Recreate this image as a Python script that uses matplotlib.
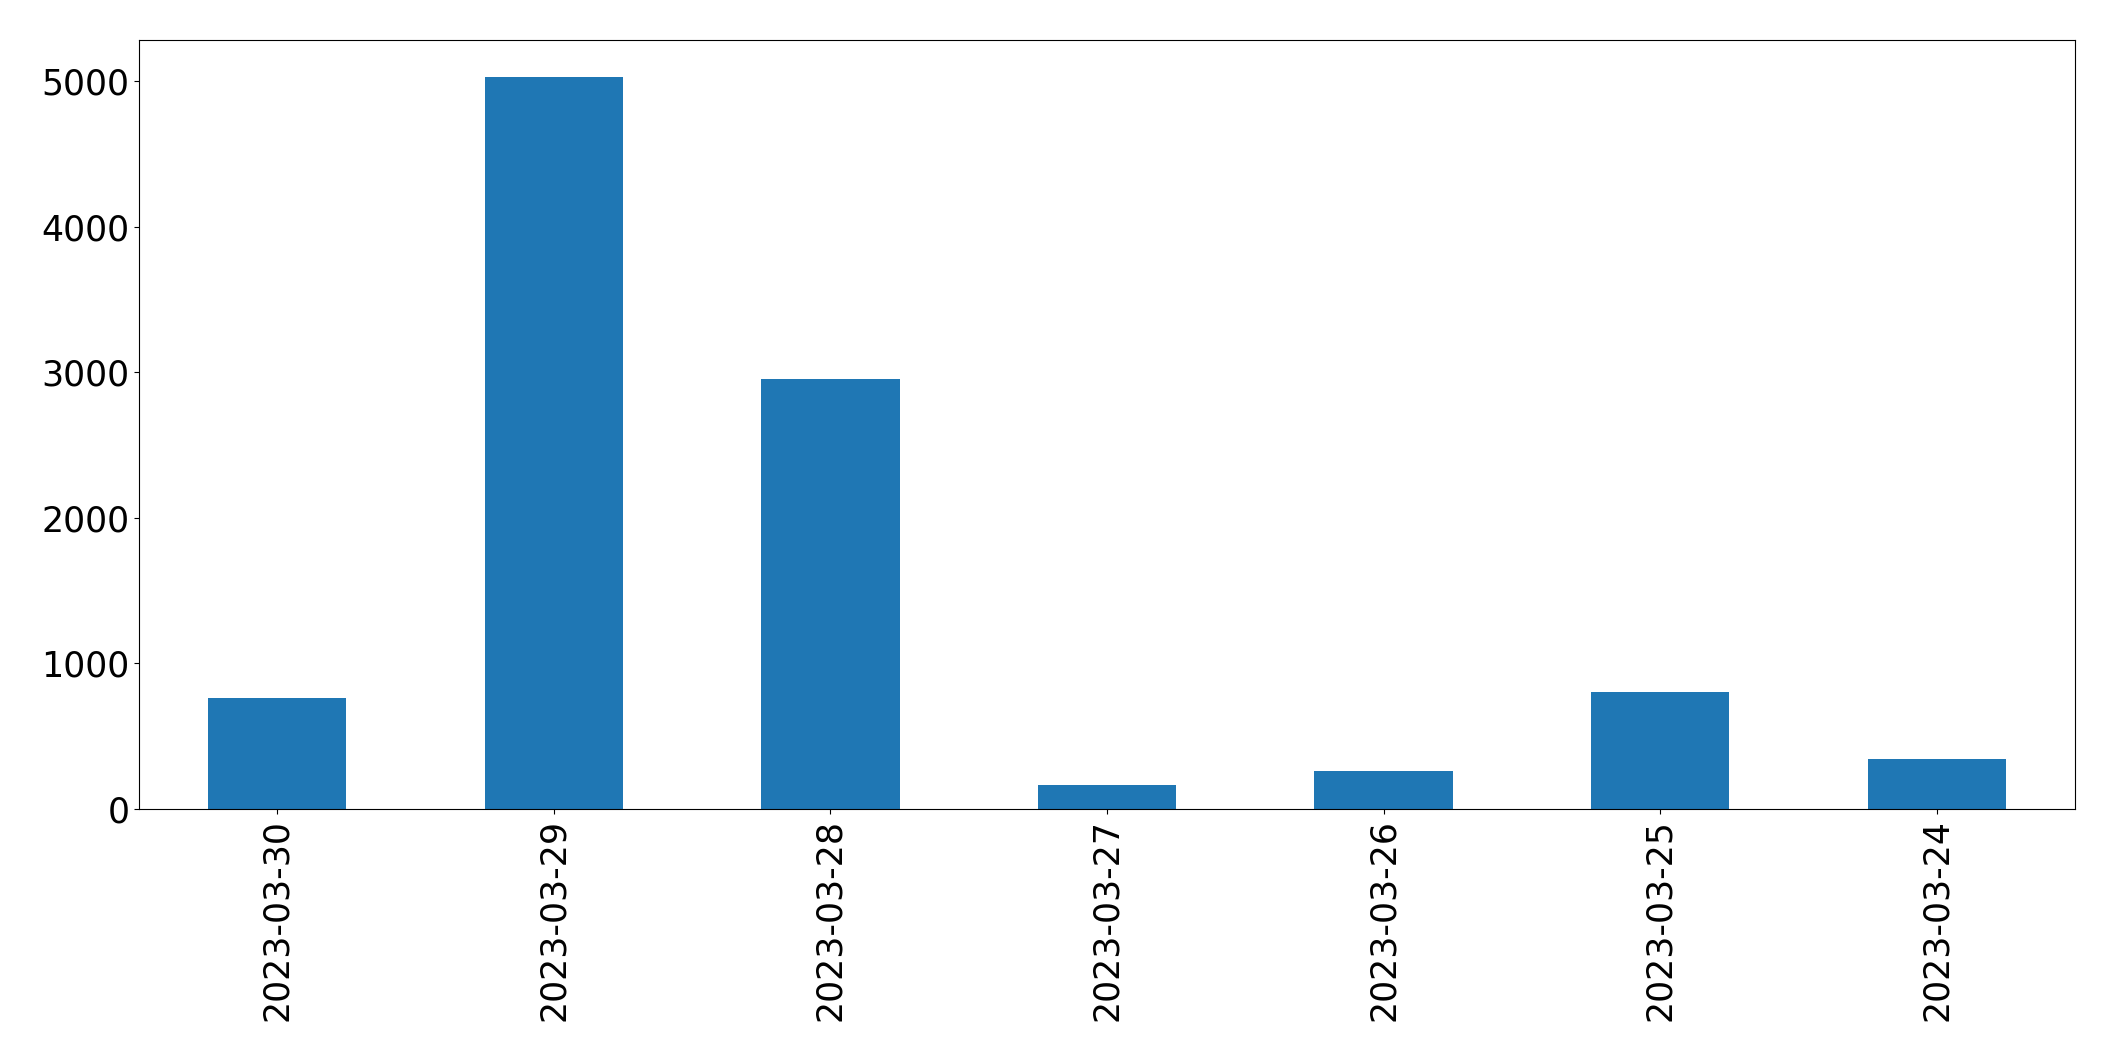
import matplotlib
matplotlib.use("Agg")
import matplotlib.pyplot as plt

dates = ["2023-03-30", "2023-03-29", "2023-03-28", "2023-03-27",
         "2023-03-26", "2023-03-25", "2023-03-24"]
counts = [761, 5032, 2954, 165, 263, 802, 343]

fig = plt.figure(figsize=(21.15, 10.61), dpi=100)
ax = fig.add_axes([139/2115, 1-809/1061, (2075-139)/2115, (809-40)/1061])
x = list(range(len(dates)))
ax.bar(x, counts, width=0.5, color="#1f77b4")
ax.set_xlim(-0.5, len(dates) - 0.5)
ax.set_xticks(x)
ax.set_xticklabels(dates, rotation=90)
ax.tick_params(axis="both", labelsize=25)
fig.savefig("out.png", dpi=100)
